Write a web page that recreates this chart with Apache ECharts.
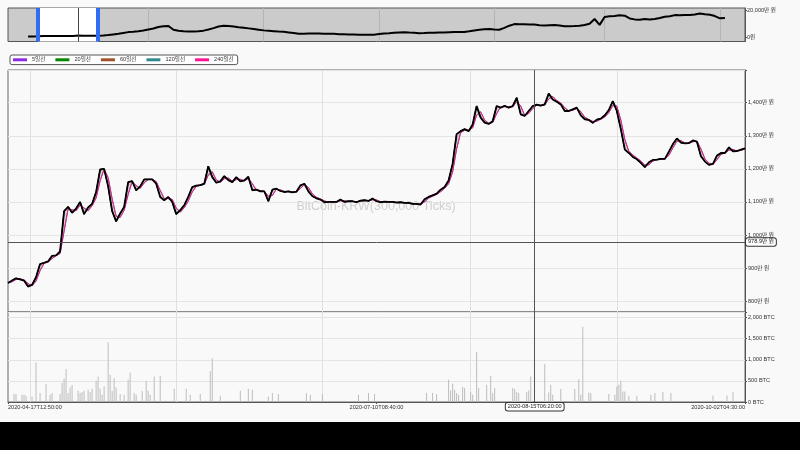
<!DOCTYPE html>
<html><head><meta charset="utf-8">
<script src="https://cdn.jsdelivr.net/npm/echarts@6/dist/echarts.min.js"></script>
<style>html,body{margin:0;padding:0;background:#000;}#c{width:800px;height:422px;}</style>
</head><body><div id="c"></div>
<script>
// ---------- data ----------
const startTime = '2020-04-17T12:50:00';
const endTime = '2020-10-02T04:30:00';
const crosshairTime = '2020-08-15T06:20:00';
const crosshairPrice = 978.9;          // 만 원
const watermark = 'BitCoin-KRW(300,000 Ticks)';

// close price (만 원), evenly spaced over the window
const closePrices = [
 855, 862, 869, 866, 862, 844, 849, 872, 912, 916,
 920, 937, 938, 950, 1072, 1085, 1067, 1080, 1100, 1063,
 1083, 1094, 1130, 1198, 1200, 1147, 1072, 1041, 1065, 1085,
 1160, 1163, 1135, 1147, 1168, 1168, 1168, 1155, 1115, 1105,
 1115, 1100, 1063, 1075, 1090, 1115, 1145, 1149, 1151, 1155,
 1208, 1175, 1158, 1162, 1178, 1166, 1160, 1175, 1162, 1165,
 1176, 1135, 1137, 1132, 1132, 1102, 1137, 1140, 1133, 1130,
 1132, 1129, 1131, 1150, 1155, 1132, 1117, 1111, 1107, 1099,
 1100, 1100, 1100, 1107, 1100, 1102, 1102, 1099, 1104, 1105,
 1103, 1110, 1102, 1099, 1101, 1100, 1100, 1098, 1099, 1097,
 1097, 1094, 1094, 1092, 1108, 1115, 1120, 1125, 1137, 1145,
 1165, 1215, 1305, 1314, 1320, 1314, 1334, 1390, 1355, 1340,
 1336, 1344, 1390, 1385, 1391, 1385, 1390, 1415, 1365, 1360,
 1375, 1390, 1394, 1391, 1395, 1428, 1410, 1403, 1395, 1375,
 1375, 1380, 1385, 1362, 1350, 1348, 1339, 1349, 1352, 1362,
 1378, 1405, 1375, 1320, 1258, 1248, 1236, 1229, 1218, 1205,
 1220, 1227, 1228, 1230, 1230, 1252, 1275, 1292, 1279, 1277,
 1278, 1286, 1282, 1238, 1222, 1212, 1215, 1240, 1248, 1248,
 1265, 1253, 1254, 1258, 1262
];

// volume (BTC) : [slot, value] on a finer slot grid
const volumeSlots = 369;
const volumeBars = [
 [3,189],[4,189],[7,172],[8,172],[9,149],[12,132],[14,934],[16,212],[19,424],[21,172],[22,212],
 [26,189],[27,448],[28,549],[29,785],[30,212],[31,344],[32,401],[35,266],[36,212],[37,236],[38,266],
 [40,290],[41,236],[42,314],[44,502],[45,604],[46,314],[47,172],[48,368],[50,1415],[51,644],[52,260],
 [53,566],[54,345],[56,189],[58,172],[60,526],[61,698],[63,212],[64,172],[67,260],[69,502],[70,266],
 [71,172],[73,604],[76,620],[83,314],[89,314],[91,172],[96,189],[101,738],[102,1037],[106,149],
 [116,266],[120,314],[122,290],[130,132],[132,212],[135,189],
 [149,212],[151,172],[157,189],[175,172],[180,212],[183,189],[209,212],[212,212],[214,189],
 [220,526],[221,274],[222,432],[223,290],[224,212],[225,172],[227,354],[228,330],[231,236],[232,172],
 [234,1193],[235,330],[239,408],[241,620],[242,212],[243,330],[252,330],[253,306],[254,236],[255,212],
 [259,236],[260,274],[261,604],[268,903],[270,226],[271,408],[272,172],[276,306],[283,306],[285,542],
 [286,172],[287,1783],[290,226],[291,212],[300,189],[303,172],[304,368],[305,408],[306,502],[307,250],
 [308,250],[310,149],[314,149],[321,172],[323,212],[327,236],[331,212],[352,156],[359,156],[362,236]
];

// overview (whole history) price, 만 원
const overviewSlots = 148;
const overviewFirst = 4;
const overviewPrices = [
 740, 800, 860, 1080, 1160, 1147, 1137, 1110, 1099, 1145,
 1390, 1380, 1245, 1282, 1262, 1500, 1800, 2300, 2800, 3400,
 4000, 4300, 4700, 5200, 6000, 6700, 7800, 8300, 8600, 5800,
 5000, 4600, 4400, 4400, 4700, 5100, 6000, 7000, 8200, 8700,
 8600, 8200, 7700, 7300, 6800, 6300, 5800, 5300, 5000, 4700,
 4400, 4300, 3800, 3300, 2800, 2800, 3000, 2900, 2900, 2800,
 2700, 2800, 2500, 2400, 2300, 2200, 2100, 2000, 2000, 2100,
 2600, 3000, 3200, 3500, 3700, 3900, 3700, 3600, 3200, 3300,
 3500, 3600, 3700, 3800, 3900, 4000, 4100, 4100, 4600, 5200,
 5700, 6100, 6300, 6000, 5800, 7200, 8800, 10000, 9900, 9800,
 9700, 9600, 9100, 8900, 9200, 9400, 8900, 8300, 8400, 8500,
 8800, 9300, 10300, 13800, 9400, 15300, 15800, 16000, 16600, 16300,
 14200, 13500, 13200, 13800, 13500, 13800, 14600, 15500, 15800, 16700,
 16500, 16700, 16700, 17200, 17900, 17400, 17000, 16000, 14300, 14500
];
const overviewWindow = [6, 18];
const overviewCross = 14;
const overviewTicks = [0, 20000];

// vertical grid line positions (fraction of the time range)
const timeGridFractions = [0.0298, 0.2289, 0.4279, 0.6269, 0.8259];
const overviewGridFractions = [0.1886, 0.3446, 0.5007, 0.6567, 0.8128, 0.9688];

const maNames = ['5일선', '20일선', '60일선', '120일선', '240일선'];
const maColors = ['#8a2be2', '#008800', '#a0522d', '#2e8b8b', '#ff1493'];
const maSpans = [1, 1, 1, 2, 2];

// ---------- helpers ----------
const FONT = "'Liberation Sans','Noto Sans CJK KR',sans-serif";
function toMs(s){const [d,t]=s.split('T');const [Y,M,D]=d.split('-').map(Number);const [h,m,x]=t.split(':').map(Number);return Date.UTC(Y,M-1,D,h,m,x);}
function fmtTime(ms){const d=new Date(ms);const p=n=>String(n).padStart(2,'0');
 return d.getUTCFullYear()+'-'+p(d.getUTCMonth()+1)+'-'+p(d.getUTCDate())+'T'+p(d.getUTCHours())+':'+p(d.getUTCMinutes())+':'+p(d.getUTCSeconds());}
const t0 = toMs(startTime), t1 = toMs(endTime);
const timeCats = [];
for (let k = 0; k < volumeSlots; k++) timeCats.push(fmtTime(Math.round((t0 + (t1 - t0) * k / (volumeSlots - 1)) / 60000) * 60000));
const step = (volumeSlots - 1) / (closePrices.length - 1);
const slotOf = i => Math.round(i * step);
function movingAvg(arr, span){return arr.map((_, i) => {const s = Math.max(0, i - span + 1); let t = 0; for (let k = s; k <= i; k++) t += arr[k]; return +(t / (i - s + 1)).toFixed(1);});}
const maData = maSpans.map(s => movingAvg(closePrices, s));
const ma240 = maData[4];
const bandBase = closePrices.map((v, i) => [slotOf(i), Math.min(v, ma240[i])]);
const bandSize = closePrices.map((v, i) => [slotOf(i), Math.abs(v - ma240[i])]);
const volData = new Array(volumeSlots).fill(null);
volumeBars.forEach(([k, v]) => { volData[k] = v; });
const ovCats = []; for (let j = 0; j < overviewSlots; j++) ovCats.push(j);
const ovData = ovCats.map(j => { const k = j - overviewFirst; return (k >= 0 && k < overviewPrices.length) ? overviewPrices[k] : null; });
const crossSlot = Math.round((toMs(crosshairTime) - t0) / (t1 - t0) * (volumeSlots - 1));
const timeGridIdx = timeGridFractions.map(f => Math.round(f * (volumeSlots - 1)));
const ovGridIdx = overviewGridFractions.map(f => Math.round(f * (overviewSlots - 1)));
const labelIdx = [0, (volumeSlots - 1) / 2, volumeSlots - 1];
const fmtWon = v => Number(v).toLocaleString('en-US', {maximumFractionDigits: 1}) + '만 원';

const small = {fontSize: 5.6, color: '#333', fontFamily: FONT};
const ptrLabel = {show: true, backgroundColor: '#fff', borderColor: '#333', borderWidth: 1, borderRadius: 2,
  padding: [1, 2, 1, 2], color: '#222', fontSize: 5.6, fontFamily: FONT, shadowBlur: 0};

const chart = echarts.init(document.getElementById('c'));
chart.setOption({
  backgroundColor: '#f9f9f9',
  animation: false,
  textStyle: {fontFamily: FONT},
  legend: {
    data: maNames, left: 10, top: 55, icon: 'rect', itemWidth: 14, itemHeight: 3, itemGap: 10,
    borderColor: '#555', borderWidth: 1, borderRadius: 2, padding: [2, 4, 2, 3], backgroundColor: '#fff',
    textStyle: {fontSize: 5.6, color: '#333', fontFamily: FONT}
  },
  graphic: [{type: 'text', x: 376, y: 207, z: 0, silent: true,
    style: {text: watermark, fill: '#cfcfcf', fontSize: 12.5, fontFamily: FONT, align: 'center', verticalAlign: 'middle'}}],
  grid: [
    {left: 8, top: 8, width: 737, height: 33.5, show: true, backgroundColor: '#cbcbcb', borderColor: '#555', borderWidth: 1},
    {left: 8, top: 70, width: 737, height: 242, show: true, backgroundColor: 'transparent', borderColor: '#666', borderWidth: 1},
    {left: 8, top: 312, width: 737, height: 90, show: true, backgroundColor: 'transparent', borderColor: '#666', borderWidth: 1}
  ],
  xAxis: [
    {gridIndex: 0, type: 'category', data: ovCats, boundaryGap: false,
     axisLine: {show: false}, axisTick: {show: false}, axisLabel: {show: false},
     splitLine: {show: true, interval: (i) => ovGridIdx.includes(i), lineStyle: {color: '#b4b4b4', width: 1}}},
    {gridIndex: 1, type: 'category', data: timeCats, boundaryGap: false,
     axisLine: {show: false}, axisTick: {show: false}, axisLabel: {show: false},
     splitLine: {show: true, interval: (i) => timeGridIdx.includes(i), lineStyle: {color: '#e0e0e0', width: 1}},
     axisPointer: {show: true, status: 'show', value: crossSlot, snap: false, type: 'line', triggerTooltip: false,
       lineStyle: {color: '#555', width: 1, type: 'solid'}, label: {show: false}}},
    {gridIndex: 2, type: 'category', data: timeCats, boundaryGap: false,
     axisLine: {show: true, lineStyle: {color: '#555'}},
     axisTick: {show: true, interval: (i) => labelIdx.includes(i), length: 2, lineStyle: {color: '#555'}},
     axisLabel: Object.assign({show: true, interval: (i) => labelIdx.includes(i), margin: 3,
       alignMinLabel: 'left', alignMaxLabel: 'right'}, small),
     splitLine: {show: true, interval: (i) => timeGridIdx.includes(i), lineStyle: {color: '#e0e0e0', width: 1}},
     axisPointer: {show: true, status: 'show', value: crossSlot, snap: false, type: 'line', triggerTooltip: false,
       lineStyle: {color: '#555', width: 1, type: 'solid'},
       label: Object.assign({}, ptrLabel, {formatter: () => crosshairTime, margin: 1})}}
  ],
  yAxis: [
    {gridIndex: 0, type: 'value', position: 'right', min: -3000, max: 22000, splitLine: {show: false},
     axisLine: {show: true, lineStyle: {color: '#555'}},
     axisTick: {show: true, length: 2, customValues: overviewTicks, lineStyle: {color: '#555'}},
     axisLabel: Object.assign({margin: 2, customValues: overviewTicks,
       formatter: v => v === 0 ? '0원' : Number(v).toLocaleString('en-US') + '만 원'}, small)},
    {gridIndex: 1, type: 'value', position: 'right', min: 767, max: 1499, scale: true,
     splitLine: {show: true, lineStyle: {color: '#e4e4e4'}},
     axisLine: {show: true, lineStyle: {color: '#555'}},
     axisTick: {show: true, length: 2, lineStyle: {color: '#555'}},
     axisLabel: Object.assign({margin: 3, formatter: v => (Math.round(v) % 100 === 0 && Math.abs(v - Math.round(v)) < 1e-6) ? fmtWon(v) : ''}, small),
     axisPointer: {show: true, status: 'show', value: crosshairPrice, snap: false, type: 'line', triggerTooltip: false,
       lineStyle: {color: '#555', width: 1, type: 'solid'},
       label: Object.assign({}, ptrLabel, {formatter: p => fmtWon(p.value), margin: 1})}},
    {gridIndex: 2, type: 'value', position: 'right', min: 0, max: 2134, interval: 500,
     splitLine: {show: true, lineStyle: {color: '#e4e4e4'}},
     axisLine: {show: true, lineStyle: {color: '#555'}},
     axisTick: {show: true, length: 2, lineStyle: {color: '#555'}},
     axisLabel: Object.assign({margin: 3, formatter: v => v % 500 === 0 ? Number(v).toLocaleString('en-US') + ' BTC' : ''}, small)}
  ],
  series: [
    {name: 'window', type: 'line', xAxisIndex: 0, yAxisIndex: 0, data: [], z: 1, silent: true,
     markArea: {silent: true, itemStyle: {color: '#ffffff', opacity: 1}, data: [[{xAxis: overviewWindow[0]}, {xAxis: overviewWindow[1]}]]}},
    {name: 'overview', type: 'line', xAxisIndex: 0, yAxisIndex: 0, data: ovData, z: 3, showSymbol: false, silent: true,
     lineStyle: {color: '#000', width: 2}},
    {name: 'handles', type: 'line', xAxisIndex: 0, yAxisIndex: 0, data: [], z: 4, silent: true,
     markLine: {silent: true, symbol: ['none', 'none'], label: {show: false},
       data: [
         {xAxis: overviewCross, lineStyle: {color: '#444', width: 1, type: 'solid'}},
         {xAxis: overviewWindow[0], lineStyle: {color: '#2f6ef0', width: 4, type: 'solid'}},
         {xAxis: overviewWindow[1], lineStyle: {color: '#2f6ef0', width: 4, type: 'solid'}}
       ]}},
    {name: 'bandBase', type: 'line', xAxisIndex: 1, yAxisIndex: 1, stack: 'band', data: bandBase, showSymbol: false,
     silent: true, lineStyle: {width: 0, opacity: 0}, z: 2},
    {name: 'band', type: 'line', xAxisIndex: 1, yAxisIndex: 1, stack: 'band', data: bandSize, showSymbol: false,
     silent: true, lineStyle: {width: 0, opacity: 0}, areaStyle: {color: 'rgba(70,95,70,0.35)'}, z: 2},
    ...maNames.map((n, m) => ({
      name: n, type: 'line', xAxisIndex: 1, yAxisIndex: 1, showSymbol: false, silent: true, z: 3,
      color: maColors[m], lineStyle: {color: maColors[m], width: 1},
      data: maData[m].map((v, i) => [slotOf(i), v])
    })),
    {name: 'close', type: 'line', xAxisIndex: 1, yAxisIndex: 1, showSymbol: false, silent: true, z: 5,
     lineStyle: {color: '#000', width: 1.8}, data: closePrices.map((v, i) => [slotOf(i), v])},
    {name: 'volume', type: 'bar', xAxisIndex: 2, yAxisIndex: 2, data: volData, barWidth: 1, silent: true,
     itemStyle: {color: '#bdbdbd'}}
  ]
});
</script></body></html>
